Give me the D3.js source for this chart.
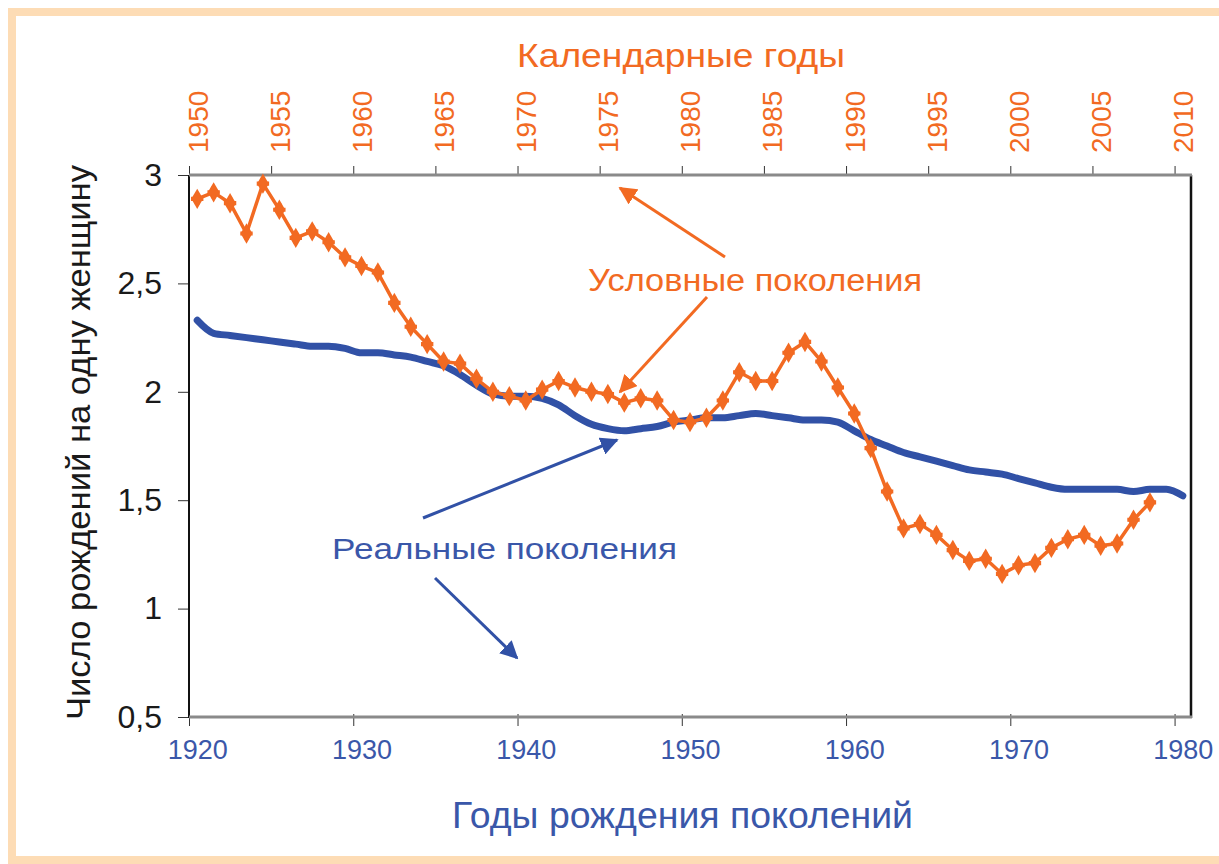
<!DOCTYPE html>
<html><head><meta charset="utf-8">
<script src="https://cdn.jsdelivr.net/npm/d3@7"></script>
<style>
body{margin:0;background:#fff}
svg{display:block}
text{font-family:"Liberation Sans",Arial,Helvetica,sans-serif}
</style>
</head><body>
<svg id="chart" width="1219" height="864"></svg>
<script>
// ---- data ----
const cohortYears = [1920,1921,1922,1923,1924,1925,1926,1927,1928,1929,
  1930,1931,1932,1933,1934,1935,1936,1937,1938,1939,
  1940,1941,1942,1943,1944,1945,1946,1947,1948,1949,
  1950,1951,1952,1953,1954,1955,1956,1957,1958,1959,
  1960,1961,1962,1963,1964,1965,1966,1967,1968,1969,
  1970,1971,1972,1973,1974,1975,1976,1977,1978,1979,1980];
const cohortTFR = [2.33,2.27,2.26,2.25,2.24,2.23,2.22,2.21,2.21,2.20,
  2.18,2.18,2.17,2.16,2.14,2.12,2.08,2.03,1.99,1.98,
  1.98,1.97,1.94,1.89,1.85,1.83,1.82,1.83,1.84,1.86,
  1.87,1.88,1.88,1.89,1.90,1.89,1.88,1.87,1.87,1.86,
  1.82,1.78,1.75,1.72,1.70,1.68,1.66,1.64,1.63,1.62,
  1.60,1.58,1.56,1.55,1.55,1.55,1.55,1.54,1.55,1.55,1.52];

const periodYears = [1950,1951,1952,1953,1954,1955,1956,1957,1958,1959,
  1960,1961,1962,1963,1964,1965,1966,1967,1968,1969,
  1970,1971,1972,1973,1974,1975,1976,1977,1978,1979,
  1980,1981,1982,1983,1984,1985,1986,1987,1988,1989,
  1990,1991,1992,1993,1994,1995,1996,1997,1998,1999,
  2000,2001,2002,2003,2004,2005,2006,2007,2008];
const periodTFR = [2.89,2.92,2.87,2.73,2.96,2.84,2.71,2.74,2.69,2.62,
  2.58,2.55,2.41,2.30,2.22,2.14,2.13,2.06,2.00,1.98,
  1.96,2.01,2.05,2.02,2.00,1.99,1.95,1.97,1.96,1.87,
  1.86,1.88,1.96,2.09,2.05,2.05,2.18,2.23,2.14,2.02,
  1.90,1.74,1.54,1.37,1.39,1.34,1.27,1.22,1.23,1.16,
  1.20,1.21,1.28,1.32,1.34,1.29,1.30,1.41,1.49];

const bottomTicks = [1920,1930,1940,1950,1960,1970,1980];
const topTicks = [1950,1955,1960,1965,1970,1975,1980,1985,1990,1995,2000,2005,2010];
const yTicks = [0.5,1,1.5,2,2.5,3];

const titleTop = "Календарные годы";
const titleBottom = "Годы рождения поколений";
const titleY = "Число рождений на одну женщину";
const labelPeriod = "Условные поколения";
const labelCohort = "Реальные поколения";

// ---- styles ----
const ORANGE = "#f26a22";
const BLUE = "#3151a6";
const BLUE_TXT = "#3a57a9";

const svg = d3.select("#chart");

// frame
svg.append("rect").attr("x",12).attr("y",12).attr("width",1230).attr("height",848)
  .attr("fill","#fff").attr("stroke","#fddcb5").attr("stroke-width",8);

const L = 189, R = 1191, T = 175, B = 717;
const x = d3.scaleLinear().domain([1920,1981]).range([L,R]);
const xTop = d3.scaleLinear().domain([1950,2011]).range([L,R]);
const y = d3.scaleLinear().domain([0.5,3]).range([B,T]);
const half = x(1920.5) - x(1920);

// bottom axis
const gB = svg.append("g").attr("transform",`translate(0,${B})`)
  .call(d3.axisBottom(x).tickValues(bottomTicks).tickFormat(d3.format("d")).tickSizeInner(9).tickSizeOuter(0).tickPadding(14));
gB.select(".domain").remove();
gB.selectAll(".tick line").attr("stroke","#333").attr("y1",-3);
gB.selectAll(".tick text").attr("x",half).attr("fill",BLUE_TXT)
  .attr("font-size",27).attr("font-family","'Liberation Sans',Arial,sans-serif");

// top axis
const gT = svg.append("g").attr("transform",`translate(0,${T})`)
  .call(d3.axisTop(xTop).tickValues(topTicks).tickFormat(d3.format("d")).tickSizeInner(9).tickSizeOuter(0));
gT.select(".domain").remove();
gT.selectAll(".tick line").attr("stroke","#333");
gT.selectAll(".tick text")
  .attr("transform","rotate(-90)")
  .attr("x",22).attr("y",half).attr("dy","0.35em")
  .attr("text-anchor","start").attr("fill",ORANGE)
  .attr("font-size",28).attr("font-family","'Liberation Sans',Arial,sans-serif");

// left axis
const gL = svg.append("g").attr("transform",`translate(${L},0)`)
  .call(d3.axisLeft(y).tickValues(yTicks).tickFormat(d => String(d).replace(".",",")).tickSizeInner(11).tickSizeOuter(0).tickPadding(16));
gL.select(".domain").remove();
gL.selectAll(".tick line").attr("stroke","#333");
gL.selectAll(".tick text").attr("fill","#1a1a1a").attr("font-size",32)
  .attr("font-family","'Liberation Sans',Arial,sans-serif");

// plot borders
svg.append("line").attr("x1",L).attr("x2",L).attr("y1",T).attr("y2",B+1).attr("stroke","#111").attr("stroke-width",2);
svg.append("line").attr("x1",R).attr("x2",R).attr("y1",T).attr("y2",B+1).attr("stroke","#111").attr("stroke-width",2.5);
svg.append("line").attr("x1",L).attr("x2",R+1).attr("y1",T).attr("y2",T).attr("stroke","#8a8a8a").attr("stroke-width",3);
svg.append("line").attr("x1",L).attr("x2",R+1).attr("y1",B).attr("y2",B).attr("stroke","#8a8a8a").attr("stroke-width",3);

// cohort line (blue)
const cohortData = cohortYears.map((yr,i)=>({yr, v:cohortTFR[i]}));
svg.append("path").datum(cohortData)
  .attr("fill","none").attr("stroke",BLUE).attr("stroke-width",7).attr("stroke-linejoin","round").attr("stroke-linecap","round")
  .attr("d", d3.line().x(d=>x(d.yr+0.5)).y(d=>y(d.v)).curve(d3.curveMonotoneX));

// period line (orange)
const periodData = periodYears.map((yr,i)=>({yr, v:periodTFR[i]}));
svg.append("path").datum(periodData)
  .attr("fill","none").attr("stroke",ORANGE).attr("stroke-width",3.5).attr("stroke-linejoin","round")
  .attr("d", d3.line().x(d=>xTop(d.yr+0.5)).y(d=>y(d.v)));
const mg = svg.append("g");
mg.selectAll("path.dm").data(periodData).join("path").attr("class","dm")
  .attr("transform",d=>`translate(${xTop(d.yr+0.5)},${y(d.v)})`)
  .attr("d", d3.symbol(d3.symbolDiamond, 120))
  .attr("fill",ORANGE);
mg.selectAll("path.cr").data(periodData).join("path").attr("class","cr")
  .attr("transform",d=>`translate(${xTop(d.yr+0.5)},${y(d.v)})`)
  .attr("d", d3.symbol(d3.symbolCross, 85))
  .attr("fill",ORANGE);

// arrow markers
const defs = svg.append("defs");
function mk(id,color){
  defs.append("marker").attr("id",id).attr("viewBox","0 0 10 10").attr("refX",9).attr("refY",5)
    .attr("markerWidth",6).attr("markerHeight",6).attr("orient","auto").attr("markerUnits","strokeWidth")
    .append("path").attr("d","M0,0 L10,5 L0,10 Z").attr("fill",color);
}
mk("arrO",ORANGE); mk("arrB",BLUE);
function arrow(x1,y1,x2,y2,color,id){
  svg.append("line").attr("x1",x1).attr("y1",y1).attr("x2",x2).attr("y2",y2)
    .attr("stroke",color).attr("stroke-width",3).attr("marker-end",`url(#${id})`);
}
arrow(725,257,620,188,ORANGE,"arrO");
arrow(707,297,620,392,ORANGE,"arrO");
arrow(423,518,617,440,BLUE,"arrB");
arrow(435,578,517,658,BLUE,"arrB");

// texts
svg.append("text").attr("x",517).attr("y",67).attr("fill",ORANGE).attr("font-size",33)
  .attr("textLength",328).attr("lengthAdjust","spacingAndGlyphs").text(titleTop);
svg.append("text").attr("x",452).attr("y",828).attr("fill",BLUE_TXT).attr("font-size",36)
  .attr("textLength",461).attr("lengthAdjust","spacingAndGlyphs").text(titleBottom);
svg.append("text").attr("transform","translate(90,720) rotate(-90)").attr("fill","#1a1a1a").attr("font-size",33)
  .attr("textLength",555).attr("lengthAdjust","spacingAndGlyphs").text(titleY);
svg.append("text").attr("x",588).attr("y",291).attr("fill",ORANGE).attr("font-size",31)
  .attr("textLength",334).attr("lengthAdjust","spacingAndGlyphs").text(labelPeriod);
svg.append("text").attr("x",332).attr("y",559).attr("fill",BLUE_TXT).attr("font-size",30)
  .attr("textLength",345).attr("lengthAdjust","spacingAndGlyphs").text(labelCohort);
</script>
</body></html>
